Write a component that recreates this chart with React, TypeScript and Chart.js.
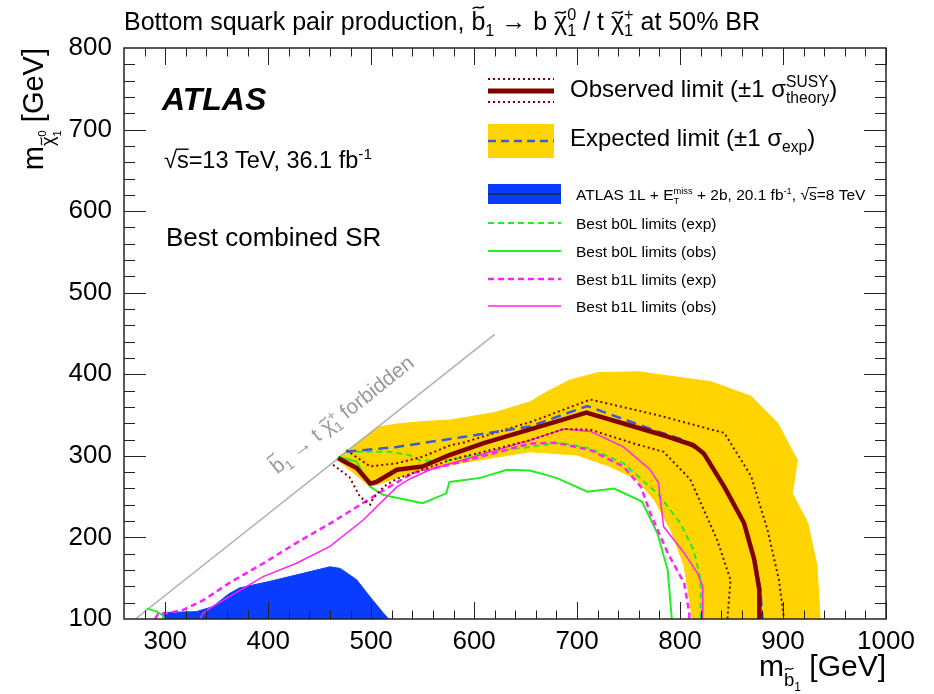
import React, { useEffect, useRef } from 'react';
import { Chart, registerables } from 'chart.js';

Chart.register(...registerables);

const FF = '"Liberation Sans", Arimo, Arial, Helvetica, sans-serif';

// ---------- tick labels ----------
const xTickValues = [300, 400, 500, 600, 700, 800, 900, 1000];
const yTickValues = [100, 200, 300, 400, 500, 600, 700, 800];

// ---------- data (m_sbottom [GeV], m_neutralino [GeV]) ----------
const expBandOuter: [number, number][] = [
  [505, 335], [525, 339], [550, 342], [577, 344], [620, 353], [654, 366], [670, 378], [693, 393],
  [720, 402], [760, 403], [800, 396], [830, 391], [869, 373], [895, 340], [907, 311], [914, 295],
  [909, 254], [924, 218], [933, 165], [936, 100],
];
const expBandInner: [number, number][] = [
  [812, 100], [804, 165], [791, 209], [775, 246], [758, 271], [732, 287], [700, 301], [655, 305],
  [615, 297], [577, 289], [547, 281], [525, 273], [499, 262], [466, 297],
];
const atlas8TeV: [number, number][] = [
  [298, 100], [298, 108], [330, 109], [346, 115], [362, 131], [372, 138], [401, 146], [434, 156],
  [460, 164], [470, 162], [486, 148], [499, 127], [512, 107], [517, 100],
];
const kinematicLine: [number, number][] = [[271, 100], [620, 449]];

const observed: [number, number][] = [
  [468, 297], [486, 285], [499, 266], [505, 268], [525, 283], [550, 287], [576, 301], [610, 316],
  [656, 333], [709, 353], [755, 336], [787, 324], [813, 313], [823, 303], [843, 262], [862, 218],
  [872, 173], [877, 136], [877, 100],
];
const observedUp: [number, number][] = [
  [476, 307], [499, 287], [525, 291], [550, 299], [577, 313], [589, 316], [656, 342], [713, 369],
  [778, 350], [843, 328], [869, 275], [885, 209], [896, 148], [901, 100],
];
const observedDown: [number, number][] = [
  [463, 289], [479, 274], [489, 250], [499, 240], [502, 248], [512, 262], [525, 272], [550, 283],
  [577, 295], [654, 319], [687, 333], [713, 332], [758, 314], [784, 305], [810, 271], [836, 197],
  [849, 148], [846, 100],
];
const expected: [number, number][] = [
  [476, 305], [525, 311], [589, 323], [654, 336], [710, 361], [778, 330], [800, 321], [823, 303],
  [843, 262], [862, 218], [872, 173], [878, 136], [880, 100],
];
const b0LExp: [number, number][] = [
  [476, 305], [518, 305], [537, 301], [548, 294], [577, 295], [616, 305], [654, 311], [684, 316],
  [713, 309], [745, 291], [778, 254], [800, 218], [813, 185], [820, 148], [820, 100],
];
const b0LObs: [number, number][] = [
  [468, 299], [486, 293], [499, 262], [512, 252], [550, 242], [573, 254], [576, 268], [589, 270],
  [606, 273], [632, 283], [654, 282], [680, 273], [710, 256], [736, 260], [763, 244], [778, 205],
  [788, 160], [792, 100],
];
const b0LObsLow: [number, number][] = [[282, 113], [292, 109], [298, 104], [299, 100]];
const b1LExp: [number, number][] = [
  [290, 100], [293, 106], [301, 107], [317, 111], [337, 123], [362, 144], [395, 168], [427, 193],
  [460, 217], [492, 242], [512, 258], [541, 279], [589, 293], [654, 315], [680, 316], [713, 307],
  [745, 287], [762, 262], [771, 230], [788, 181], [804, 144], [809, 107], [809, 100],
];
const b1LObs: [number, number][] = [
  [334, 100], [336, 106], [343, 113], [362, 127], [395, 152], [427, 168], [460, 189], [492, 221],
  [525, 262], [538, 272], [557, 283], [589, 295], [654, 319], [687, 333], [713, 330], [745, 311],
  [771, 283], [779, 267], [784, 213], [804, 181], [817, 156], [822, 140], [822, 100],
];

// ---------- styles ----------
const C_YELLOW = '#ffd400';
const C_BLUE8 = '#0a3cff';
const C_MAROON = '#800000';
const C_EXP = '#3a5bd9';
const C_GREEN = '#22ee22';
const C_MAGENTA = '#ff22ff';

type RI = { t: string; s?: number; dy?: number; tilde?: number; stack?: boolean; over?: boolean };

function fontStr(px: number, bold = false, italic = false) {
  return `${italic ? 'italic ' : ''}${bold ? 'bold ' : ''}${px}px ${FF}`;
}

function richWidth(ctx: CanvasRenderingContext2D, items: RI[], size: number) {
  let w = 0;
  let stackW: number | null = null;
  for (const it of items) {
    ctx.font = fontStr(size * (it.s ?? 1));
    const tw = ctx.measureText(it.t).width;
    if (it.stack) { stackW = tw; continue; }
    if (stackW !== null) { w += Math.max(stackW, tw); stackW = null; } else w += tw;
  }
  return w;
}

function drawTilde(ctx: CanvasRenderingContext2D, x: number, w: number, yc: number, fs: number, color: string) {
  const ww = Math.max(w * 0.8, fs * 0.4);
  const x1 = x + (w - ww) / 2;
  const a = fs * 0.05;
  ctx.save();
  ctx.strokeStyle = color;
  ctx.lineWidth = Math.max(1, fs * 0.065);
  ctx.setLineDash([]);
  ctx.beginPath();
  ctx.moveTo(x1, yc + a);
  ctx.bezierCurveTo(x1 + ww * 0.3, yc - 2.5 * a, x1 + ww * 0.7, yc + 2.5 * a, x1 + ww, yc - a);
  ctx.stroke();
  ctx.restore();
}

function drawRich(ctx: CanvasRenderingContext2D, items: RI[], x: number, y: number, size: number,
  color: string, align: 'left' | 'right' | 'center' = 'left') {
  const w = richWidth(ctx, items, size);
  let cx = align === 'left' ? x : align === 'right' ? x - w : x - w / 2;
  ctx.fillStyle = color;
  ctx.textAlign = 'left';
  ctx.textBaseline = 'alphabetic';
  let stackX: number | null = null;
  let stackW = 0;
  for (const it of items) {
    const fs = size * (it.s ?? 1);
    ctx.font = fontStr(fs);
    const tw = ctx.measureText(it.t).width;
    const ox = stackX ?? cx;
    const yy = y + (it.dy ?? 0) * size;
    ctx.fillText(it.t, ox, yy);
    if (it.tilde) drawTilde(ctx, ox, tw, yy - it.tilde * fs, fs, color);
    if (it.over) {
      ctx.save();
      ctx.strokeStyle = color; ctx.lineWidth = Math.max(1, fs * 0.06);
      ctx.beginPath(); ctx.moveTo(ox - 1, yy - 0.8 * fs); ctx.lineTo(ox + tw, yy - 0.8 * fs); ctx.stroke();
      ctx.restore();
    }
    if (it.stack) { stackX = cx; stackW = tw; continue; }
    if (stackX !== null) { cx = stackX + Math.max(stackW, tw); stackX = null; } else cx += tw;
  }
  return w;
}

const titleItems: RI[] = [
  { t: 'Bottom squark pair production, ' },
  { t: 'b', tilde: 0.9 }, { t: '1', s: 0.65, dy: 0.22 },
  { t: ' \u2192 b ' },
  { t: '\u03c7', tilde: 0.7 }, { t: '0', s: 0.65, dy: -0.4, stack: true }, { t: '1', s: 0.65, dy: 0.22 },
  { t: ' / t ' },
  { t: '\u03c7', tilde: 0.7 }, { t: '+', s: 0.65, dy: -0.4, stack: true }, { t: '1', s: 0.65, dy: 0.22 },
  { t: ' at 50% BR' },
];
const yTitleItems: RI[] = [
  { t: 'm' },
  { t: '\u03c7', s: 0.62, dy: 0.38, tilde: 0.7 },
  { t: '0', s: 0.4, dy: 0.12, stack: true }, { t: '1', s: 0.4, dy: 0.62 },
  { t: ' [GeV]' },
];
const xTitleItems: RI[] = [
  { t: 'm' },
  { t: 'b', s: 0.62, dy: 0.32, tilde: 0.9 }, { t: '1', s: 0.4, dy: 0.5 },
  { t: ' [GeV]' },
];
const forbiddenItems: RI[] = [
  { t: 'b', tilde: 0.9 }, { t: '1', s: 0.65, dy: 0.22 },
  { t: ' \u2192 t ' },
  { t: '\u03c7', tilde: 0.7 }, { t: '+', s: 0.65, dy: -0.4, stack: true }, { t: '1', s: 0.65, dy: 0.22 },
  { t: ' forbidden' },
];
const obsLegItems: RI[] = [
  { t: 'Observed limit (\u00b11 \u03c3' },
  { t: 'SUSY', s: 0.65, dy: -0.42, stack: true }, { t: 'theory', s: 0.65, dy: 0.25 },
  { t: ')' },
];
const expLegItems: RI[] = [
  { t: 'Expected limit (\u00b11 \u03c3' }, { t: 'exp', s: 0.65, dy: 0.25 }, { t: ')' },
];
const atlasLegItems: RI[] = [
  { t: 'ATLAS 1L + E' }, { t: 'miss', s: 0.6, dy: -0.4, stack: true }, { t: 'T', s: 0.6, dy: 0.25 },
  { t: ' + 2b, 20.1 fb' }, { t: '-1', s: 0.6, dy: -0.4 }, { t: ', \u221a' }, { t: 's', over: true },
  { t: '=8 TeV' },
];
const energyItems: RI[] = [
  { t: '\u221a' }, { t: 's', over: true }, { t: '=13 TeV, 36.1 fb' }, { t: '-1', s: 0.65, dy: -0.4 },
];

const smallLegend = [
  { label: 'Best b0L limits (exp)', color: C_GREEN, dash: [6, 4], width: 2 },
  { label: 'Best b0L limits (obs)', color: C_GREEN, dash: [], width: 2 },
  { label: 'Best b1L limits (exp)', color: C_MAGENTA, dash: [6, 4], width: 2.5 },
  { label: 'Best b1L limits (obs)', color: C_MAGENTA, dash: [], width: 1.5 },
];

function seg(ctx: CanvasRenderingContext2D, x1: number, y1: number, x2: number, y2: number) {
  ctx.beginPath(); ctx.moveTo(x1, y1); ctx.lineTo(x2, y2); ctx.stroke();
}

const framePlugin = {
  id: 'rootFrame',
  afterDatasetsDraw(chart: any) {
    const { ctx, chartArea: a, scales } = chart;
    const xs = scales.x; const ys = scales.y;
    ctx.save();
    ctx.strokeStyle = '#222';
    ctx.lineWidth = 1;
    ctx.setLineDash([]);
    for (let v = 280; v <= 1000; v += 20) {
      const px = Math.round(xs.getPixelForValue(v)) + 0.5;
      const L = v % 100 === 0 ? 17 : 8.5;
      seg(ctx, px, a.bottom, px, a.bottom - L);
      seg(ctx, px, a.top, px, a.top + L);
    }
    for (let v = 120; v <= 780; v += 20) {
      const py = Math.round(ys.getPixelForValue(v)) + 0.5;
      const L = v % 100 === 0 ? 22 : 11;
      seg(ctx, a.left, py, a.left + L, py);
      seg(ctx, a.right, py, a.right - L, py);
    }
    ctx.lineWidth = 1.5;
    ctx.strokeRect(a.left, a.top, a.right - a.left, a.bottom - a.top);
    ctx.restore();
  },
};

const textPlugin = {
  id: 'texts',
  afterDraw(chart: any) {
    const { ctx, chartArea: a, scales } = chart;
    const xs = scales.x; const ys = scales.y;
    ctx.save();
    // title
    drawRich(ctx, titleItems, a.left, 30, 25, '#000');
    // axis titles
    ctx.save();
    ctx.translate(43, a.top);
    ctx.rotate(-Math.PI / 2);
    drawRich(ctx, yTitleItems, 0, 0, 29, '#000', 'right');
    ctx.restore();
    drawRich(ctx, xTitleItems, a.right, 676, 30, '#000', 'right');
    // ATLAS label
    ctx.font = fontStr(32, true, true);
    ctx.fillStyle = '#000';
    ctx.textAlign = 'left';
    ctx.fillText('ATLAS', 162, 110);
    drawRich(ctx, energyItems, 164, 168, 23.5, '#000');
    ctx.font = fontStr(26);
    ctx.fillStyle = '#000';
    ctx.fillText('Best combined SR', 166, 246);

    // forbidden label along kinematic line
    const p1x = xs.getPixelForValue(kinematicLine[0][0]);
    const p1y = ys.getPixelForValue(kinematicLine[0][1]);
    const p2x = xs.getPixelForValue(kinematicLine[1][0]);
    const p2y = ys.getPixelForValue(kinematicLine[1][1]);
    const ang = Math.atan2(p2y - p1y, p2x - p1x);
    const fx = 424; const fyv = fx - (kinematicLine[0][0] - kinematicLine[0][1]);
    const ax = xs.getPixelForValue(fx); const ay = ys.getPixelForValue(fyv);
    const off = 25;
    ctx.save();
    ctx.translate(ax + Math.sin(ang) * off, ay - Math.cos(ang) * off);
    ctx.rotate(ang);
    drawRich(ctx, forbiddenItems, 0, 0, 21, '#9a9a9a');
    ctx.restore();

    // legend
    const lx1 = 488; const lx2 = 554;
    ctx.strokeStyle = C_MAROON;
    ctx.lineWidth = 2; ctx.setLineDash([2, 3]);
    seg(ctx, lx1, 79, lx2, 79);
    seg(ctx, lx1, 102, lx2, 102);
    ctx.setLineDash([]); ctx.lineWidth = 5;
    seg(ctx, lx1, 91, lx2, 91);
    drawRich(ctx, obsLegItems, 570, 97, 24, '#000');

    ctx.fillStyle = C_YELLOW;
    ctx.fillRect(lx1, 124, lx2 - lx1, 34);
    ctx.strokeStyle = C_EXP; ctx.lineWidth = 2.5; ctx.setLineDash([8, 5]);
    seg(ctx, lx1, 141, lx2, 141);
    ctx.setLineDash([]);
    drawRich(ctx, expLegItems, 570, 146, 24, '#000');

    const sx2 = 561;
    ctx.fillStyle = C_BLUE8;
    ctx.fillRect(lx1, 184, sx2 - lx1, 20);
    ctx.strokeStyle = '#1a2c66'; ctx.lineWidth = 2;
    seg(ctx, lx1, 194, sx2, 194);
    drawRich(ctx, atlasLegItems, 576, 200, 15.5, '#000');

    const ys0 = [223, 251, 279, 306];
    smallLegend.forEach((e, i) => {
      ctx.strokeStyle = e.color; ctx.lineWidth = e.width; ctx.setLineDash(e.dash);
      seg(ctx, lx1, ys0[i], sx2, ys0[i]);
      ctx.setLineDash([]);
      ctx.font = fontStr(15.5); ctx.fillStyle = '#000';
      ctx.fillText(e.label, 576, ys0[i] + 6);
    });
    ctx.restore();
  },
};

const pts = (arr: [number, number][]) => arr.map(([x, y]) => ({ x, y }));

function line(label: string, data: [number, number][], opts: any) {
  return {
    label, data: pts(data), showLine: true, pointRadius: 0, pointHoverRadius: 0,
    tension: 0, fill: false, borderCapStyle: 'butt', ...opts,
  };
}

export default function App() {
  const ref = useRef<HTMLCanvasElement>(null);
  useEffect(() => {
    const chart = new Chart(ref.current as HTMLCanvasElement, {
      type: 'scatter',
      data: {
        datasets: [
          line('Expected band', [...expBandOuter, ...expBandInner], {
            fill: 'shape', backgroundColor: C_YELLOW, borderColor: C_YELLOW, borderWidth: 1, order: 20,
          }),
          line('ATLAS 8 TeV', atlas8TeV, {
            fill: 'shape', backgroundColor: C_BLUE8, borderColor: C_BLUE8, borderWidth: 1, order: 19,
          }),
          line('Kinematic limit', kinematicLine, { borderColor: '#b0b0b0', borderWidth: 1.5, order: 18 }),
          line('b0L exp', b0LExp, { borderColor: C_GREEN, borderWidth: 2, borderDash: [6, 4], order: 7 }),
          line('b0L obs', b0LObs, { borderColor: C_GREEN, borderWidth: 2, order: 6 }),
          line('b0L obs low', b0LObsLow, { borderColor: C_GREEN, borderWidth: 2, order: 6 }),
          line('b1L exp', b1LExp, { borderColor: C_MAGENTA, borderWidth: 2.5, borderDash: [6, 4], order: 5 }),
          line('b1L obs', b1LObs, { borderColor: C_MAGENTA, borderWidth: 1.5, order: 4 }),
          line('Obs +1sigma', observedUp, { borderColor: C_MAROON, borderWidth: 2, borderDash: [2, 3], order: 3 }),
          line('Obs -1sigma', observedDown, { borderColor: C_MAROON, borderWidth: 2, borderDash: [2, 3], order: 3 }),
          line('Expected', expected, { borderColor: C_EXP, borderWidth: 2.5, borderDash: [10, 6], order: 2 }),
          line('Observed', observed, { borderColor: C_MAROON, borderWidth: 4.5, borderJoinStyle: 'round', order: 1 }),
        ],
      },
      options: {
        responsive: false,
        animation: false,
        events: [],
        layout: { padding: { left: 0, right: 48, top: 48, bottom: 0 } },
        plugins: { legend: { display: false }, tooltip: { enabled: false }, title: { display: false } },
        scales: {
          x: {
            type: 'linear', min: 260, max: 1000,
            afterBuildTicks: (s: any) => { s.ticks = xTickValues.map((v) => ({ value: v })); },
            afterFit: (s: any) => { s.height = 75; },
            grid: { display: false, drawTicks: false },
            border: { display: false },
            ticks: {
              font: { family: FF, size: 26 }, color: '#000', padding: 7, maxRotation: 0, autoSkip: false,
              callback: (v: any) => String(v),
            },
          },
          y: {
            type: 'linear', min: 100, max: 800,
            afterBuildTicks: (s: any) => { s.ticks = yTickValues.map((v) => ({ value: v })); },
            afterFit: (s: any) => { s.width = 124; },
            grid: { display: false, drawTicks: false },
            border: { display: false },
            ticks: {
              font: { family: FF, size: 26 }, color: '#000', padding: 12, autoSkip: false,
              callback: (v: any) => String(v),
            },
          },
        },
      } as any,
      plugins: [framePlugin, textPlugin],
    } as any);
    return () => chart.destroy();
  }, []);
  return (
    <div style={{ position: 'absolute', left: 0, top: 0, width: 934, height: 694, background: '#fff' }}>
      <canvas ref={ref} width={934} height={694} style={{ display: 'block' }} />
    </div>
  );
}
